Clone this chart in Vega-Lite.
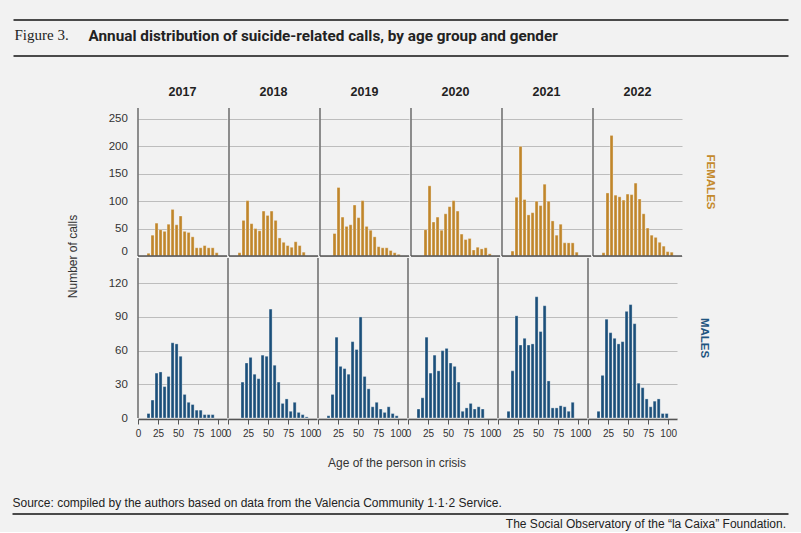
{
  "$schema": "https://vega.github.io/schema/vega-lite/v6.json",
  "background": "#f2f2f2",
  "padding": {"left": 11, "top": 19, "right": 12, "bottom": 2},
  "config": {
    "view": {"stroke": null},
    "font": "Liberation Sans",
    "axis": {"labelFont": "Liberation Sans", "labelFontSize": 11.5, "labelColor": "#333", "titleFont": "Liberation Sans", "titleFontSize": 12, "titleFontWeight": "normal", "titleColor": "#333"},
    "header": {"labelFont": "Liberation Sans", "titleFont": "Liberation Sans"},
    "title": {"font": "Liberation Sans", "color": "#222"}
  },
  "datasets": {
    "calls": [
      {"year":2017,"sex":"Females","from":10,"to":15,"calls":5},{"year":2017,"sex":"Females","from":15,"to":20,"calls":38},{"year":2017,"sex":"Females","from":20,"to":25,"calls":60},{"year":2017,"sex":"Females","from":25,"to":30,"calls":48},{"year":2017,"sex":"Females","from":30,"to":35,"calls":45},{"year":2017,"sex":"Females","from":35,"to":40,"calls":58},{"year":2017,"sex":"Females","from":40,"to":45,"calls":85},{"year":2017,"sex":"Females","from":45,"to":50,"calls":57},{"year":2017,"sex":"Females","from":50,"to":55,"calls":73},{"year":2017,"sex":"Females","from":55,"to":60,"calls":45},{"year":2017,"sex":"Females","from":60,"to":65,"calls":43},{"year":2017,"sex":"Females","from":65,"to":70,"calls":35},{"year":2017,"sex":"Females","from":70,"to":75,"calls":15},{"year":2017,"sex":"Females","from":75,"to":80,"calls":15},{"year":2017,"sex":"Females","from":80,"to":85,"calls":19},{"year":2017,"sex":"Females","from":85,"to":90,"calls":15},{"year":2017,"sex":"Females","from":90,"to":95,"calls":15},{"year":2017,"sex":"Females","from":95,"to":100,"calls":6},
      {"year":2018,"sex":"Females","from":10,"to":15,"calls":6},{"year":2018,"sex":"Females","from":15,"to":20,"calls":65},{"year":2018,"sex":"Females","from":20,"to":25,"calls":101},{"year":2018,"sex":"Females","from":25,"to":30,"calls":59},{"year":2018,"sex":"Females","from":30,"to":35,"calls":50},{"year":2018,"sex":"Females","from":35,"to":40,"calls":46},{"year":2018,"sex":"Females","from":40,"to":45,"calls":82},{"year":2018,"sex":"Females","from":45,"to":50,"calls":74},{"year":2018,"sex":"Females","from":50,"to":55,"calls":82},{"year":2018,"sex":"Females","from":55,"to":60,"calls":65},{"year":2018,"sex":"Females","from":60,"to":65,"calls":33},{"year":2018,"sex":"Females","from":65,"to":70,"calls":25},{"year":2018,"sex":"Females","from":70,"to":75,"calls":19},{"year":2018,"sex":"Females","from":75,"to":80,"calls":16},{"year":2018,"sex":"Females","from":80,"to":85,"calls":26},{"year":2018,"sex":"Females","from":85,"to":90,"calls":19},{"year":2018,"sex":"Females","from":90,"to":95,"calls":7},
      {"year":2019,"sex":"Females","from":15,"to":20,"calls":41},{"year":2019,"sex":"Females","from":20,"to":25,"calls":125},{"year":2019,"sex":"Females","from":25,"to":30,"calls":71},{"year":2019,"sex":"Females","from":30,"to":35,"calls":54},{"year":2019,"sex":"Females","from":35,"to":40,"calls":57},{"year":2019,"sex":"Females","from":40,"to":45,"calls":93},{"year":2019,"sex":"Females","from":45,"to":50,"calls":70},{"year":2019,"sex":"Females","from":50,"to":55,"calls":101},{"year":2019,"sex":"Females","from":55,"to":60,"calls":54},{"year":2019,"sex":"Females","from":60,"to":65,"calls":47},{"year":2019,"sex":"Females","from":65,"to":70,"calls":35},{"year":2019,"sex":"Females","from":70,"to":75,"calls":17},{"year":2019,"sex":"Females","from":75,"to":80,"calls":15},{"year":2019,"sex":"Females","from":80,"to":85,"calls":15},{"year":2019,"sex":"Females","from":85,"to":90,"calls":10},{"year":2019,"sex":"Females","from":90,"to":95,"calls":6},{"year":2019,"sex":"Females","from":95,"to":100,"calls":3},
      {"year":2020,"sex":"Females","from":15,"to":20,"calls":48},{"year":2020,"sex":"Females","from":20,"to":25,"calls":128},{"year":2020,"sex":"Females","from":25,"to":30,"calls":62},{"year":2020,"sex":"Females","from":30,"to":35,"calls":71},{"year":2020,"sex":"Females","from":35,"to":40,"calls":47},{"year":2020,"sex":"Females","from":40,"to":45,"calls":77},{"year":2020,"sex":"Females","from":45,"to":50,"calls":90},{"year":2020,"sex":"Females","from":50,"to":55,"calls":101},{"year":2020,"sex":"Females","from":55,"to":60,"calls":82},{"year":2020,"sex":"Females","from":60,"to":65,"calls":40},{"year":2020,"sex":"Females","from":65,"to":70,"calls":30},{"year":2020,"sex":"Females","from":70,"to":75,"calls":32},{"year":2020,"sex":"Females","from":75,"to":80,"calls":11},{"year":2020,"sex":"Females","from":80,"to":85,"calls":16},{"year":2020,"sex":"Females","from":85,"to":90,"calls":13},{"year":2020,"sex":"Females","from":90,"to":95,"calls":15},{"year":2020,"sex":"Females","from":95,"to":100,"calls":4},
      {"year":2021,"sex":"Females","from":10,"to":15,"calls":9},{"year":2021,"sex":"Females","from":15,"to":20,"calls":107},{"year":2021,"sex":"Females","from":20,"to":25,"calls":200},{"year":2021,"sex":"Females","from":25,"to":30,"calls":103},{"year":2021,"sex":"Females","from":30,"to":35,"calls":75},{"year":2021,"sex":"Females","from":35,"to":40,"calls":79},{"year":2021,"sex":"Females","from":40,"to":45,"calls":100},{"year":2021,"sex":"Females","from":45,"to":50,"calls":92},{"year":2021,"sex":"Females","from":50,"to":55,"calls":131},{"year":2021,"sex":"Females","from":55,"to":60,"calls":100},{"year":2021,"sex":"Females","from":60,"to":65,"calls":64},{"year":2021,"sex":"Females","from":65,"to":70,"calls":38},{"year":2021,"sex":"Females","from":70,"to":75,"calls":58},{"year":2021,"sex":"Females","from":75,"to":80,"calls":24},{"year":2021,"sex":"Females","from":80,"to":85,"calls":24},{"year":2021,"sex":"Females","from":85,"to":90,"calls":24},{"year":2021,"sex":"Females","from":90,"to":95,"calls":7},
      {"year":2022,"sex":"Females","from":10,"to":15,"calls":6},{"year":2022,"sex":"Females","from":15,"to":20,"calls":115},{"year":2022,"sex":"Females","from":20,"to":25,"calls":220},{"year":2022,"sex":"Females","from":25,"to":30,"calls":111},{"year":2022,"sex":"Females","from":30,"to":35,"calls":108},{"year":2022,"sex":"Females","from":35,"to":40,"calls":102},{"year":2022,"sex":"Females","from":40,"to":45,"calls":113},{"year":2022,"sex":"Females","from":45,"to":50,"calls":112},{"year":2022,"sex":"Females","from":50,"to":55,"calls":133},{"year":2022,"sex":"Females","from":55,"to":60,"calls":104},{"year":2022,"sex":"Females","from":60,"to":65,"calls":77},{"year":2022,"sex":"Females","from":65,"to":70,"calls":51},{"year":2022,"sex":"Females","from":70,"to":75,"calls":38},{"year":2022,"sex":"Females","from":75,"to":80,"calls":34},{"year":2022,"sex":"Females","from":80,"to":85,"calls":25},{"year":2022,"sex":"Females","from":85,"to":90,"calls":18},{"year":2022,"sex":"Females","from":90,"to":95,"calls":8},{"year":2022,"sex":"Females","from":95,"to":100,"calls":7},
      {"year":2017,"sex":"Males","from":10,"to":15,"calls":4},{"year":2017,"sex":"Males","from":15,"to":20,"calls":16},{"year":2017,"sex":"Males","from":20,"to":25,"calls":40},{"year":2017,"sex":"Males","from":25,"to":30,"calls":41},{"year":2017,"sex":"Males","from":30,"to":35,"calls":28},{"year":2017,"sex":"Males","from":35,"to":40,"calls":37},{"year":2017,"sex":"Males","from":40,"to":45,"calls":67},{"year":2017,"sex":"Males","from":45,"to":50,"calls":66},{"year":2017,"sex":"Males","from":50,"to":55,"calls":55},{"year":2017,"sex":"Males","from":55,"to":60,"calls":21},{"year":2017,"sex":"Males","from":60,"to":65,"calls":14},{"year":2017,"sex":"Males","from":65,"to":70,"calls":12},{"year":2017,"sex":"Males","from":70,"to":75,"calls":7},{"year":2017,"sex":"Males","from":75,"to":80,"calls":7},{"year":2017,"sex":"Males","from":80,"to":85,"calls":3},{"year":2017,"sex":"Males","from":85,"to":90,"calls":3},{"year":2017,"sex":"Males","from":90,"to":95,"calls":3},
      {"year":2018,"sex":"Males","from":15,"to":20,"calls":32},{"year":2018,"sex":"Males","from":20,"to":25,"calls":49},{"year":2018,"sex":"Males","from":25,"to":30,"calls":54},{"year":2018,"sex":"Males","from":30,"to":35,"calls":39},{"year":2018,"sex":"Males","from":35,"to":40,"calls":35},{"year":2018,"sex":"Males","from":40,"to":45,"calls":56},{"year":2018,"sex":"Males","from":45,"to":50,"calls":55},{"year":2018,"sex":"Males","from":50,"to":55,"calls":97},{"year":2018,"sex":"Males","from":55,"to":60,"calls":47},{"year":2018,"sex":"Males","from":60,"to":65,"calls":32},{"year":2018,"sex":"Males","from":65,"to":70,"calls":13},{"year":2018,"sex":"Males","from":70,"to":75,"calls":17},{"year":2018,"sex":"Males","from":75,"to":80,"calls":6},{"year":2018,"sex":"Males","from":80,"to":85,"calls":14},{"year":2018,"sex":"Males","from":85,"to":90,"calls":5},{"year":2018,"sex":"Males","from":90,"to":95,"calls":3},{"year":2018,"sex":"Males","from":95,"to":100,"calls":1},
      {"year":2019,"sex":"Males","from":10,"to":15,"calls":2},{"year":2019,"sex":"Males","from":15,"to":20,"calls":21},{"year":2019,"sex":"Males","from":20,"to":25,"calls":72},{"year":2019,"sex":"Males","from":25,"to":30,"calls":46},{"year":2019,"sex":"Males","from":30,"to":35,"calls":44},{"year":2019,"sex":"Males","from":35,"to":40,"calls":39},{"year":2019,"sex":"Males","from":40,"to":45,"calls":68},{"year":2019,"sex":"Males","from":45,"to":50,"calls":61},{"year":2019,"sex":"Males","from":50,"to":55,"calls":90},{"year":2019,"sex":"Males","from":55,"to":60,"calls":37},{"year":2019,"sex":"Males","from":60,"to":65,"calls":26},{"year":2019,"sex":"Males","from":65,"to":70,"calls":10},{"year":2019,"sex":"Males","from":70,"to":75,"calls":14},{"year":2019,"sex":"Males","from":75,"to":80,"calls":8},{"year":2019,"sex":"Males","from":80,"to":85,"calls":5},{"year":2019,"sex":"Males","from":85,"to":90,"calls":10},{"year":2019,"sex":"Males","from":90,"to":95,"calls":4},{"year":2019,"sex":"Males","from":95,"to":100,"calls":2},
      {"year":2020,"sex":"Males","from":10,"to":15,"calls":8},{"year":2020,"sex":"Males","from":15,"to":20,"calls":18},{"year":2020,"sex":"Males","from":20,"to":25,"calls":72},{"year":2020,"sex":"Males","from":25,"to":30,"calls":40},{"year":2020,"sex":"Males","from":30,"to":35,"calls":56},{"year":2020,"sex":"Males","from":35,"to":40,"calls":42},{"year":2020,"sex":"Males","from":40,"to":45,"calls":60},{"year":2020,"sex":"Males","from":45,"to":50,"calls":62},{"year":2020,"sex":"Males","from":50,"to":55,"calls":49},{"year":2020,"sex":"Males","from":55,"to":60,"calls":46},{"year":2020,"sex":"Males","from":60,"to":65,"calls":32},{"year":2020,"sex":"Males","from":65,"to":70,"calls":6},{"year":2020,"sex":"Males","from":70,"to":75,"calls":9},{"year":2020,"sex":"Males","from":75,"to":80,"calls":13},{"year":2020,"sex":"Males","from":80,"to":85,"calls":8},{"year":2020,"sex":"Males","from":85,"to":90,"calls":10},{"year":2020,"sex":"Males","from":90,"to":95,"calls":8},
      {"year":2021,"sex":"Males","from":10,"to":15,"calls":6},{"year":2021,"sex":"Males","from":15,"to":20,"calls":42},{"year":2021,"sex":"Males","from":20,"to":25,"calls":91},{"year":2021,"sex":"Males","from":25,"to":30,"calls":65},{"year":2021,"sex":"Males","from":30,"to":35,"calls":71},{"year":2021,"sex":"Males","from":35,"to":40,"calls":65},{"year":2021,"sex":"Males","from":40,"to":45,"calls":66},{"year":2021,"sex":"Males","from":45,"to":50,"calls":108},{"year":2021,"sex":"Males","from":50,"to":55,"calls":77},{"year":2021,"sex":"Males","from":55,"to":60,"calls":100},{"year":2021,"sex":"Males","from":60,"to":65,"calls":33},{"year":2021,"sex":"Males","from":65,"to":70,"calls":9},{"year":2021,"sex":"Males","from":70,"to":75,"calls":9},{"year":2021,"sex":"Males","from":75,"to":80,"calls":11},{"year":2021,"sex":"Males","from":80,"to":85,"calls":10},{"year":2021,"sex":"Males","from":85,"to":90,"calls":6},{"year":2021,"sex":"Males","from":90,"to":95,"calls":14},
      {"year":2022,"sex":"Males","from":10,"to":15,"calls":6},{"year":2022,"sex":"Males","from":15,"to":20,"calls":38},{"year":2022,"sex":"Males","from":20,"to":25,"calls":88},{"year":2022,"sex":"Males","from":25,"to":30,"calls":76},{"year":2022,"sex":"Males","from":30,"to":35,"calls":71},{"year":2022,"sex":"Males","from":35,"to":40,"calls":66},{"year":2022,"sex":"Males","from":40,"to":45,"calls":68},{"year":2022,"sex":"Males","from":45,"to":50,"calls":95},{"year":2022,"sex":"Males","from":50,"to":55,"calls":101},{"year":2022,"sex":"Males","from":55,"to":60,"calls":84},{"year":2022,"sex":"Males","from":60,"to":65,"calls":31},{"year":2022,"sex":"Males","from":65,"to":70,"calls":27},{"year":2022,"sex":"Males","from":70,"to":75,"calls":17},{"year":2022,"sex":"Males","from":75,"to":80,"calls":10},{"year":2022,"sex":"Males","from":80,"to":85,"calls":15},{"year":2022,"sex":"Males","from":85,"to":90,"calls":17},{"year":2022,"sex":"Males","from":90,"to":95,"calls":4},{"year":2022,"sex":"Males","from":95,"to":100,"calls":4}
    ]
  },
  "spacing": 28,
  "vconcat": [
    {
      "width": 681.5,
      "height": 36,
      "data": {"values": [{}]},
      "title": {"text": "Annual distribution of suicide-related calls, by age group and gender", "anchor": "start", "frame": "group", "dx": -18.5, "offset": -37, "baseline": "alphabetic", "font": "Roboto", "fontSize": 15.3, "fontWeight": "bold", "color": "#222"},
      "layer": [
        {
          "mark": {"type": "rule", "color": "#4a4a4a", "strokeWidth": 2},
          "encoding": {
            "y": {"datum": 1, "type": "quantitative", "scale": {"domain": [0, 1]},
              "axis": {"values": [0, 1], "title": "Figure 3.", "titleAngle": 0, "titleAlign": "left", "titleBaseline": "alphabetic", "titleX": -92.5, "titleY": 20, "titleFont": "Liberation Serif", "titleFontSize": 15, "titleFontWeight": "normal", "titleColor": "#222", "labels": false, "ticks": true, "tickSize": 93.5, "tickWidth": 2, "tickColor": "#4a4a4a", "translate": 0, "domain": false, "grid": false}}
          }
        },
        {
          "mark": {"type": "rule", "color": "#4a4a4a", "strokeWidth": 2},
          "encoding": {"y": {"datum": 0, "type": "quantitative"}}
        }
      ]
    },
    {
      "spacing": 0,
      "hconcat": [
        {
          "width": 0.2,
          "height": 148,
          "data": {"values": [{}]},
          "mark": {"type": "rule", "strokeOpacity": 0},
          "encoding": {
            "y": {"datum": 0, "type": "quantitative", "scale": {"domain": [0, 1]},
              "axis": {"title": "Number of calls", "titleX": -27.5, "titleY": 148, "titleAngle": -90, "titleAlign": "center", "titleBaseline": "bottom", "labels": false, "ticks": false, "domain": false, "grid": false}}
          }
        },
        {
          "spacing": 0,
          "vconcat": [
            {
              "data": {"name": "calls"},
              "transform": [{"filter": "datum.sex === 'Females'"}],
              "spacing": 0,
              "facet": {
                "column": {"field": "year", "type": "ordinal", "title": null, "header": {"labelFontSize": 12.5, "labelFontWeight": "bold", "labelColor": "#222", "labelPadding": 9}},
                "row": {"field": "sex", "type": "nominal", "title": null, "header": {"labelOrient": "right", "labelAngle": 90, "labelExpr": "upper(datum.value)", "labelColor": "#c48a2e", "labelFontWeight": "bold", "labelFontSize": 11.5, "labelPadding": 21}}
              },
              "spec": {
                "width": 89,
                "height": 148,
                "layer": [
                  {
                    "mark": {"type": "bar", "color": "#c0862b", "stroke": "#ffffff", "strokeOpacity": 0.45, "strokeWidth": 0.7},
                    "encoding": {
                      "x": {"field": "from", "type": "quantitative", "bin": {"binned": true}, "scale": {"domain": [0, 111], "nice": false}, "axis": null},
                      "x2": {"field": "to"},
                      "y": {"field": "calls", "type": "quantitative", "scale": {"domain": [0, 270], "nice": false},
                        "axis": {"values": [0, 50, 100, 150, 200, 250], "title": null, "domain": false, "ticks": false, "labelPadding": 9.6, "labelFlush": true, "grid": true, "gridColor": "#bdbdbd", "gridWidth": 1}}
                    }
                  },
                  {
                    "transform": [{"aggregate": [{"op": "count", "as": "n"}]}],
                    "mark": {"type": "rule", "color": "#555", "strokeWidth": 1.3},
                    "encoding": {"x": {"datum": 0, "type": "quantitative", "axis": null}}
                  },
                  {
                    "transform": [{"aggregate": [{"op": "count", "as": "n"}]}],
                    "mark": {"type": "rule", "color": "#555", "strokeWidth": 1.5},
                    "encoding": {"y": {"datum": 0, "type": "quantitative",
                      "axis": {"values": [0, 50, 100, 150, 200, 250], "title": null, "domain": false, "ticks": false, "labelPadding": 9.6, "labelFlush": true, "grid": true, "gridColor": "#bdbdbd", "gridWidth": 1}}}
                  }
                ]
              }
            },
            {
              "data": {"name": "calls"},
              "transform": [{"filter": "datum.sex === 'Males'"}],
              "spacing": 0,
              "title": {"text": "Age of the person in crisis", "orient": "bottom", "anchor": "middle", "frame": "group", "dx": 259, "offset": 20, "fontSize": 12, "fontWeight": "normal", "color": "#333"},
              "facet": {
                "column": {"field": "year", "type": "ordinal", "title": null, "header": null},
                "row": {"field": "sex", "type": "nominal", "title": null, "header": {"labelOrient": "right", "labelAngle": 90, "labelExpr": "upper(datum.value)", "labelColor": "#1f5580", "labelFontWeight": "bold", "labelFontSize": 11.5, "labelPadding": 21}}
              },
              "spec": {
                "width": 89,
                "height": 160,
                "layer": [
                  {
                    "mark": {"type": "bar", "color": "#1b4f7a", "stroke": "#ffffff", "strokeOpacity": 0.45, "strokeWidth": 0.7},
                    "encoding": {
                      "x": {"field": "from", "type": "quantitative", "bin": {"binned": true}, "scale": {"domain": [0, 111], "nice": false},
                        "axis": {"title": null, "values": [0, 25, 50, 75, 100], "tickCount": 5, "labelFontSize": 10, "labelFlush": false, "labelOverlap": false, "ticks": true, "tickColor": "#555", "tickSize": 5, "labelPadding": 4, "grid": false, "domainColor": "#555", "domainWidth": 1.5}},
                      "x2": {"field": "to"},
                      "y": {"field": "calls", "type": "quantitative", "scale": {"domain": [0, 142.5], "nice": false},
                        "axis": {"values": [0, 30, 60, 90, 120], "title": null, "domain": false, "ticks": false, "labelPadding": 9.6, "labelFlush": false, "grid": true, "gridColor": "#bdbdbd", "gridWidth": 1}}
                    }
                  },
                  {
                    "transform": [{"aggregate": [{"op": "count", "as": "n"}]}],
                    "mark": {"type": "rule", "color": "#555", "strokeWidth": 1.3},
                    "encoding": {"x": {"datum": 0, "type": "quantitative",
                      "axis": {"title": null, "values": [0, 25, 50, 75, 100], "tickCount": 5, "labelFontSize": 10, "labelFlush": false, "labelOverlap": false, "ticks": true, "tickColor": "#555", "tickSize": 5, "labelPadding": 4, "grid": false, "domainColor": "#555", "domainWidth": 1.5}}}
                  }
                ]
              }
            }
          ]
        }
      ]
    },
    {
      "width": 681.5,
      "height": 2,
      "data": {"values": [{}]},
      "title": {"text": "The Social Observatory of the “la Caixa” Foundation.", "orient": "bottom", "anchor": "end", "frame": "group", "dx": -2.5, "offset": 3, "baseline": "top", "fontSize": 12, "fontWeight": "normal", "color": "#222"},
      "mark": {"type": "rule", "color": "#4a4a4a", "strokeWidth": 2},
      "encoding": {
        "y": {"datum": 1, "type": "quantitative", "scale": {"domain": [0, 1]},
          "axis": {"values": [1], "title": "Source: compiled by the authors based on data from the Valencia Community 1·1·2 Service.", "titleAngle": 0, "titleAlign": "left", "titleBaseline": "alphabetic", "titleX": -94.5, "titleY": -7, "titleFontSize": 12, "titleColor": "#222", "labels": false, "ticks": true, "tickSize": 94.5, "tickWidth": 2, "tickColor": "#4a4a4a", "translate": 0, "domain": false, "grid": false}}
      }
    }
  ]
}
